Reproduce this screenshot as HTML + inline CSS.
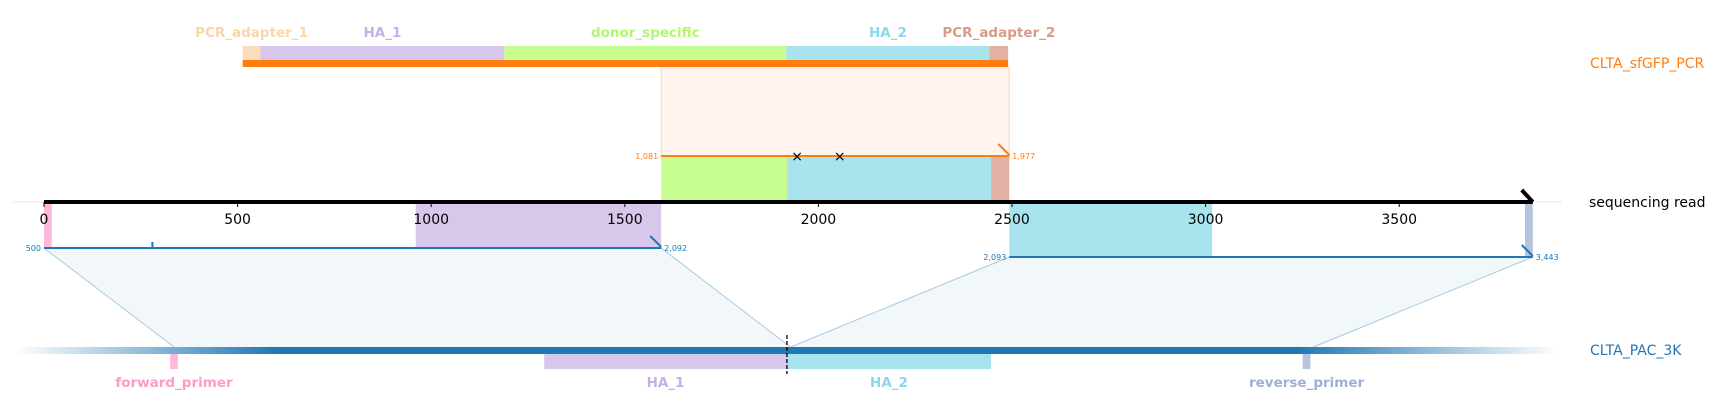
<!DOCTYPE html>
<html><head><meta charset="utf-8">
<style>
html,body{margin:0;padding:0;background:#fff;}
svg{display:block;font-family:"DejaVu Sans","Liberation Sans",sans-serif;}
</style></head>
<body>
<svg id="chart" width="1715" height="415" viewBox="0 0 1715 415" xmlns="http://www.w3.org/2000/svg">
<defs>
<linearGradient id="refGrad" x1="0" x2="1" y1="0" y2="0">
<stop offset="0" stop-color="#1f77b4" stop-opacity="0"/>
<stop offset="0.17" stop-color="#1f77b4" stop-opacity="1"/>
<stop offset="0.83" stop-color="#1f77b4" stop-opacity="1"/>
<stop offset="1" stop-color="#1f77b4" stop-opacity="0"/>
</linearGradient>
</defs>
</svg>
<script>
// ---- data ----
const readLength = 3845;
const axisTicks = [0, 500, 1000, 1500, 2000, 2500, 3000, 3500];
const donorNames = ["PCR_adapter_1", "HA_1", "donor_specific", "HA_2", "PCR_adapter_2"];
const donorStarts = [0, 46, 676, 1404, 1929];
const donorEnds = [46, 676, 1404, 1929, 1977];
const donorColors = ["#fbdcbb", "#d7c7eb", "#c6fd8e", "#a9e4ee", "#e1b1a4"];
const donorLabelColors = ["#fbd5a8", "#c5b0e5", "#b1f76c", "#8ad8e8", "#d99a86"];
const donorAlnRead = [1594, 2493];
const donorAlnDonor = [1081, 1977];
const donorMismatches = [1945, 2055];
const readAboveNames = ["donor_specific", "HA_2", "PCR_adapter_2"];
const readAboveStarts = [1594, 1919, 2446];
const readAboveEnds = [1919, 2446, 2493];
const readAboveColors = ["#c6fd8e", "#a9e4ee", "#e1b1a4"];
const readBelowNames = ["forward_primer", "HA_1", "HA_2", "reverse_primer"];
const readBelowStarts = [0, 960, 2493, 3825];
const readBelowEnds = [20, 1594, 3017, 3845];
const readBelowRow = [0, 0, 1, 1];
const readBelowColors = ["#ffb8d9", "#d7c7eb", "#a9e4ee", "#b5c3dc"];
const refAlnReadStart = [0, 2493];
const refAlnReadEnd = [1594, 3845];
const refAlnRefStart = [500, 2093];
const refAlnRefEnd = [2092, 3443];
const refAlnLabels = [["500", "2,092"], ["2,093", "3,443"]];
const refFeatNames = ["forward_primer", "HA_1", "HA_2", "reverse_primer"];
const refFeatStarts = [490, 1456, 2083, 3415];
const refFeatEnds = [510, 2083, 2610, 3435];
const refFeatColors = ["#ffb8d9", "#d7c7eb", "#a9e4ee", "#b5c3dc"];
const refLabelColors = ["#ff9acb", "#c5b0e5", "#8ad8e8", "#9fb0d4"];
const refCut = 2083;

// ---- scales ----
const PX = 0.3872;
const xRead = v => 44 + v * PX;
const xDonor = d => xRead(donorAlnRead[0]) + (d - donorAlnDonor[0]) * PX;
const xRef = r => 174 + (r - 500) * PX;

const svg = document.getElementById('chart');
const NS = 'http://www.w3.org/2000/svg';
function mk(tag, attrs, parent) {
  const e = document.createElementNS(NS, tag);
  for (const k in attrs) e.setAttribute(k, attrs[k]);
  (parent || svg).appendChild(e);
  return e;
}
function txt(str, attrs) { const t = mk('text', attrs); t.textContent = str; return t; }

const readY = 202, donorBarY = 63, donorAlnY = 156, refY = 350;

let e = mk('line', {x1: 13, x2: 1562, y1: readY, y2: readY, stroke: '#e6e6e6', 'stroke-width': 1});



const dx0 = xRead(donorAlnRead[0]), dx1 = xRead(donorAlnRead[1]);
e = mk('rect', {x: dx0, y: donorBarY + 4, width: dx1 - dx0, height: donorAlnY - donorBarY - 4, fill: '#fff5ee', stroke: '#fcd6b4', 'stroke-width': 1});



for (let i = 0; i < donorNames.length; i++) {
  const x0 = xDonor(donorStarts[i]), x1 = xDonor(donorEnds[i]);
  e = mk('rect', {x: x0, y: 46, width: x1 - x0, height: 14, fill: donorColors[i]});
  
  
  e = txt(donorNames[i], {x: (x0 + x1) / 2, y: 37, 'text-anchor': 'middle', fill: donorLabelColors[i], 'font-size': 13.5, 'font-weight': 'bold'});
  
  
}
e = mk('rect', {x: xDonor(0), y: 60, width: xDonor(donorEnds[4]) - xDonor(0), height: 7, fill: '#ff7f0e'});


e = txt('CLTA_sfGFP_PCR', {x: 1590, y: 68, fill: '#ff7f0e', 'font-size': 14});



for (let i = 0; i < readAboveNames.length; i++) {
  const x0 = xRead(readAboveStarts[i]), x1 = xRead(readAboveEnds[i]);
  e = mk('rect', {x: x0, y: donorAlnY, width: x1 - x0, height: readY - donorAlnY, fill: readAboveColors[i]});
  
  
}
e = mk('line', {x1: dx0, x2: dx1, y1: donorAlnY, y2: donorAlnY, stroke: '#ff7f0e', 'stroke-width': 2});


e = mk('line', {x1: dx1, x2: dx1 - 11, y1: donorAlnY - 1, y2: donorAlnY - 12, stroke: '#ff7f0e', 'stroke-width': 2});


e = txt(donorAlnDonor[0].toLocaleString('en-US'), {x: dx0 - 3, y: donorAlnY + 3, 'text-anchor': 'end', fill: '#ff7f0e', 'font-size': 8});


e = txt(donorAlnDonor[1].toLocaleString('en-US'), {x: dx1 + 3, y: donorAlnY + 3, fill: '#ff7f0e', 'font-size': 8});


for (let i = 0; i < donorMismatches.length; i++) {
  e = txt('×', {x: xRead(donorMismatches[i]), y: donorAlnY + 5, 'text-anchor': 'middle', fill: '#000', 'font-size': 14});
  
  
}

for (let i = 0; i < readBelowNames.length; i++) {
  const x0 = xRead(readBelowStarts[i]), x1 = xRead(readBelowEnds[i]);
  const h = readBelowRow[i] ? 55 : 46;
  e = mk('rect', {x: x0, y: readY, width: x1 - x0, height: h, fill: readBelowColors[i]});
  
  
}

for (let i = 0; i < refAlnReadStart.length; i++) {
  const y = i === 0 ? 248 : 257;
  const a0 = xRead(refAlnReadStart[i]), a1 = xRead(refAlnReadEnd[i]);
  const r0 = xRef(refAlnRefStart[i]), r1 = xRef(refAlnRefEnd[i]);
  e = mk('polygon', {points: `${a0},${y} ${a1},${y} ${r1},${refY - 3} ${r0},${refY - 3}`, fill: '#f2f7fa', stroke: 'none'});
  
  
  e = mk('line', {x1: a0, y1: y, x2: r0, y2: refY - 3, stroke: '#a6cbe3', 'stroke-width': 1});
  
  
  e = mk('line', {x1: a1, y1: y, x2: r1, y2: refY - 3, stroke: '#a6cbe3', 'stroke-width': 1});
  
  
  e = mk('line', {x1: a0, x2: a1, y1: y, y2: y, stroke: '#1f77b4', 'stroke-width': 2});
  
  
  e = mk('line', {x1: a1, x2: a1 - 11, y1: y - 1, y2: y - 12, stroke: '#1f77b4', 'stroke-width': 2});
  
  
  e = txt(refAlnLabels[i][0], {x: a0 - 3, y: y + 3, 'text-anchor': 'end', fill: '#1f77b4', 'font-size': 8});
  
  
  e = txt(refAlnLabels[i][1], {x: a1 + 3, y: y + 3, fill: '#1f77b4', 'font-size': 8});
  
  
}
e = mk('line', {x1: xRead(280), x2: xRead(280), y1: 242, y2: 248, stroke: '#1f77b4', 'stroke-width': 2});



e = mk('line', {x1: xRead(0), x2: xRead(readLength), y1: readY, y2: readY, stroke: '#000', 'stroke-width': 4});


e = mk('line', {x1: xRead(readLength), x2: xRead(readLength) - 11, y1: readY, y2: readY - 12, stroke: '#000', 'stroke-width': 4});


for (let i = 0; i < axisTicks.length; i++) {
  const x = xRead(axisTicks[i]);
  e = mk('line', {x1: x, x2: x, y1: readY, y2: readY + 5, stroke: '#000', 'stroke-width': 1});
  
  
  e = txt(String(axisTicks[i]), {x: x, y: readY + 22, 'text-anchor': 'middle', fill: '#000', 'font-size': 14});
  
  
}
e = txt('sequencing read', {x: 1589, y: 207, fill: '#000', 'font-size': 14});



e = mk('rect', {x: 15, y: refY - 3, width: 1544, height: 7, fill: 'url(#refGrad)'});


for (let i = 0; i < refFeatNames.length; i++) {
  const x0 = xRef(refFeatStarts[i]), x1 = xRef(refFeatEnds[i]);
  e = mk('rect', {x: x0, y: refY + 4, width: x1 - x0, height: 15, fill: refFeatColors[i]});
  
  
  e = txt(refFeatNames[i], {x: (x0 + x1) / 2, y: 387, 'text-anchor': 'middle', fill: refLabelColors[i], 'font-size': 13.5, 'font-weight': 'bold'});
  
  
}
e = mk('line', {x1: xRef(refCut), x2: xRef(refCut), y1: 335, y2: 374, stroke: '#000', 'stroke-width': 1.3, 'stroke-dasharray': '4,2'});


e = txt('CLTA_PAC_3K', {x: 1590, y: 355, fill: '#1f77b4', 'font-size': 14});


</script>
</body></html>
